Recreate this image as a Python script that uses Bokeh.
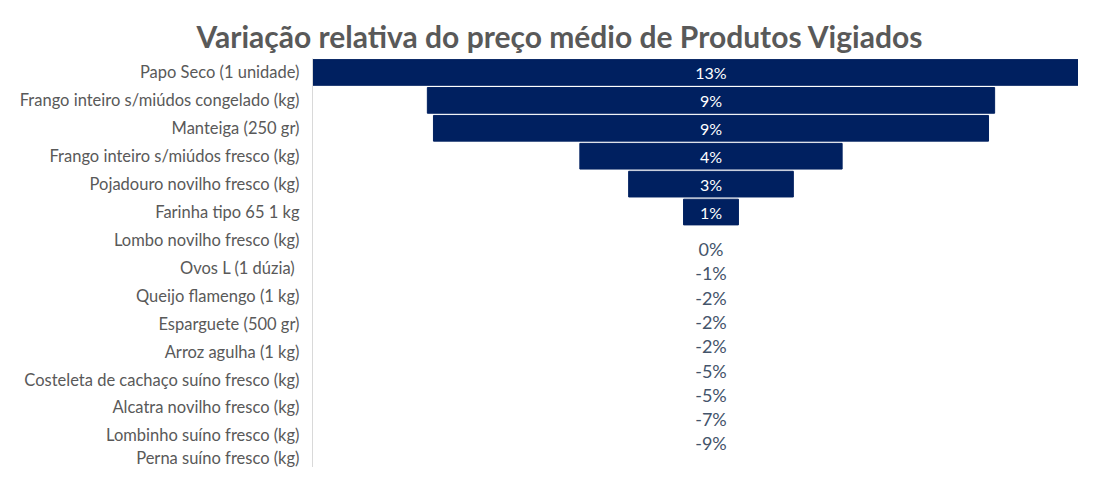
from bokeh.plotting import figure
from bokeh.models import ColumnDataSource, Range1d, FixedTicker
from bokeh.core.properties import value
from bokeh.embed import file_html
from bokeh.resources import INLINE

categories = [
    "Papo Seco (1 unidade)",
    "Frango inteiro s/miúdos congelado (kg)",
    "Manteiga (250 gr)",
    "Frango inteiro s/miúdos fresco (kg)",
    "Pojadouro novilho fresco (kg)",
    "Farinha tipo 65 1 kg",
    "Lombo novilho fresco (kg)",
    "Ovos L  (1 dúzia)",
    "Queijo flamengo (1 kg)",
    "Esparguete (500 gr)",
    "Arroz agulha (1 kg)",
    "Costeleta de cachaço suíno fresco (kg)",
    "Alcatra novilho fresco (kg)",
    "Lombinho suíno fresco (kg)",
    "Perna suíno fresco (kg)",
]
# relative price change, %
values = [13.1, 9.3, 9.1, 4.3, 2.7, 0.9, -0.2, -1.0, -1.6, -2.0, -2.4, -4.8, -5.1, -6.8, -9.0]
labels = ["13%", "9%", "9%", "4%", "3%", "1%", "0%", "-1%", "-2%", "-2%", "-2%", "-5%", "-5%", "-7%", "-9%"]

BAR = "#002060"

idx = list(range(len(categories)))
pos = [i for i in idx if values[i] > 0]
neg = [i for i in idx if values[i] <= 0]

bar_src = ColumnDataSource(dict(
    y=pos,
    left=[-values[i] / 2 for i in pos],
    right=[values[i] / 2 for i in pos],
    lab=[labels[i] for i in pos],
    x=[0] * len(pos),
))
# Excel packs the labels of the (invisible) negative bars slightly tighter
first_neg = neg[0]
neg_src = ColumnDataSource(dict(
    y=[first_neg + 0.33 + 0.87 * (i - first_neg) for i in neg],
    x=[0] * len(neg),
    lab=[labels[i] for i in neg],
))

p = figure(width=1078, height=467, output_backend="svg", toolbar_location=None,
           x_range=Range1d(-6.533, 6.025), y_range=Range1d(14.15, -0.5),
           x_axis_location=None, min_border_left=312, min_border_right=0,
           min_border_top=58, min_border_bottom=0)

p.title.text = "Variação relativa do preço médio de Produtos Vigiados"
p.title.text_font = "Lato"
p.title.text_font_style = "bold"
p.title.text_font_size = "30px"
p.title.text_color = "#595959"
p.title.align = "left"
p.title.offset = -116
p.title.standoff = 10
p.title.text_line_height = 0.75

p.outline_line_color = None
p.xgrid.visible = False
p.ygrid.visible = False
p.background_fill_color = "white"
p.border_fill_color = "white"

p.hbar(y="y", left="left", right="right", height=0.92, source=bar_src,
       fill_color=BAR, line_color=BAR)
p.text(x="x", y="y", text="lab", source=bar_src, text_align="center",
       text_baseline="middle", text_color="white", text_font=value("Lato"),
       text_font_size="16px")
p.text(x="x", y="y", text="lab", source=neg_src, text_align="center",
       text_baseline="middle", text_color="#44546A", text_font=value("Lato"),
       text_font_size="18px")

ax = p.yaxis[0]
ax.ticker = FixedTicker(ticks=idx)
ax.major_label_overrides = {i: c for i, c in zip(idx, categories)}
ax.major_tick_line_color = None
ax.minor_tick_line_color = None
ax.major_tick_out = 0
ax.major_label_standoff = 13
ax.axis_line_color = "#d9d9d9"
ax.major_label_text_font = "Lato"
ax.major_label_text_font_size = "16.5px"
ax.major_label_text_color = "#595959"

open("out.html", "w").write(file_html(p, INLINE))
